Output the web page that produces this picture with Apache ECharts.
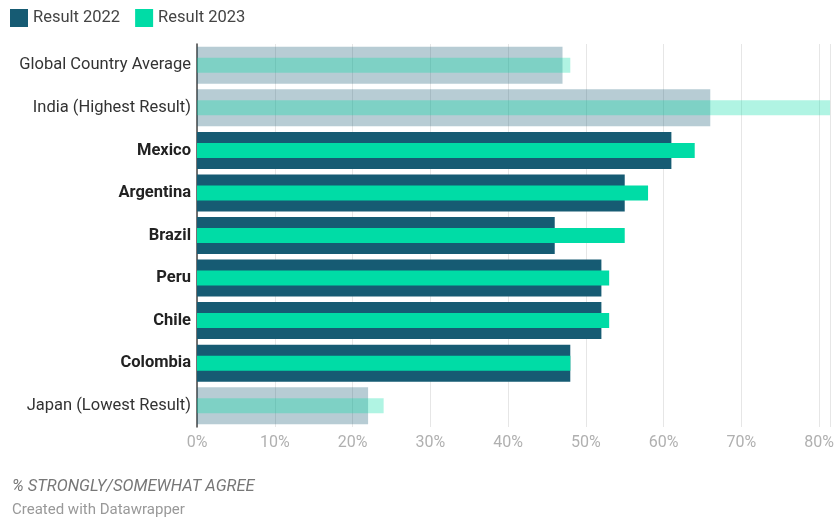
<!DOCTYPE html>
<html>
<head>
<meta charset="utf-8">
<script src="https://cdn.jsdelivr.net/npm/echarts@6/dist/echarts.min.js"></script>
<style>
html,body{margin:0;padding:0;background:#fff;}
#c{width:837px;height:522px;}
</style>
</head>
<body>
<div id="c"></div>
<script>
const categories = ['Global Country Average','India (Highest Result)','Mexico','Argentina','Brazil','Peru','Chile','Colombia','Japan (Lowest Result)'];
const faded = [true,true,false,false,false,false,false,false,true];
const result2022 = [47,66,61,55,46,52,52,48,22];
const result2023 = [48,83,64,58,55,53,53,48,24];
const xTicks = [0,10,20,30,40,50,60,70,80];

const C22 = '#165b73', C23 = '#00dca6';
function mk(vals){
  return vals.map((v,i)=>({value:v,itemStyle:faded[i]?{opacity:0.31}:{}}));
}
const chart = echarts.init(document.getElementById('c'));
const yBase = {
  type:'category', data:categories, inverse:true,
  axisTick:{show:false}
};
chart.setOption({
  animation:false,
  textStyle:{fontFamily:'Roboto'},
  legend:{
    left:10, top:9, padding:0, itemWidth:18, itemHeight:18, itemGap:15, icon:'rect',
    textStyle:{fontSize:16.5,color:'#444',fontFamily:'Roboto'},
    data:['Result 2022','Result 2023']
  },
  grid:{left:197,right:0,top:44,bottom:95,containLabel:false},
  xAxis:{
    type:'value', min:0, max:81.4, interval:10,
    axisLine:{show:false}, axisTick:{show:false},
    splitLine:{lineStyle:{color:'#e6e6e6',width:1}},
    axisLabel:{
      color:'#b0b0b0', fontSize:16, margin:8, fontFamily:'Roboto',
      showMaxLabel:false,
      formatter:v=> xTicks.includes(v)? v+'%':''
    }
  },
  yAxis:[
    Object.assign({}, yBase, {
      axisLine:{show:true,lineStyle:{color:'#444',width:1.5}},
      axisLabel:{
        margin:6, fontSize:16.5, color:'#333', fontFamily:'Roboto',
        formatter:(v,i)=> faded[i]? v : '{b|'+v+'}',
        rich:{b:{fontWeight:'bold',fontSize:16.5,color:'#222',fontFamily:'Roboto'}}
      }
    }),
    Object.assign({}, yBase, {show:false})
  ],
  series:[
    {name:'Result 2022',type:'bar',yAxisIndex:0,barWidth:37,
     itemStyle:{color:C22},data:mk(result2022)},
    {name:'Result 2023',type:'bar',yAxisIndex:1,barWidth:15,
     itemStyle:{color:C23},data:mk(result2023)}
  ],
  graphic:[
    {type:'text',left:12,top:478,style:{text:'% STRONGLY/SOMEWHAT AGREE',fontSize:16.5,fontStyle:'italic',fill:'#777',fontFamily:'Roboto'}},
    {type:'text',left:12,top:503,style:{text:'Created with Datawrapper',fontSize:15,fill:'#999',fontFamily:'Roboto'}}
  ]
});
</script>
</body>
</html>
